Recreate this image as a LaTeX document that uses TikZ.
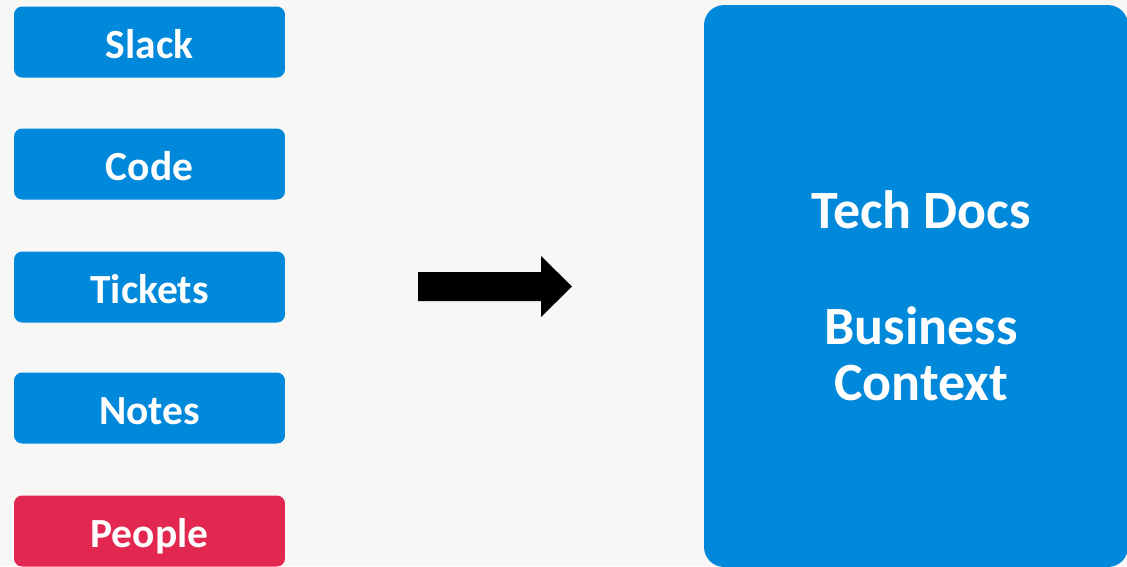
\documentclass[tikz,border=0pt]{standalone}
\usepackage{fontspec}
\setmainfont{Carlito}
\definecolor{srcblue}{HTML}{0089DB}
\definecolor{srcred}{HTML}{E22850}
\definecolor{paper}{HTML}{F7F7F5}
\begin{document}
\begin{tikzpicture}[x=0.02cm, y=-0.02cm, line join=round,
    srcbox/.style={fill=srcblue, text=white, rounded corners=0.16cm, inner sep=0pt,
      minimum width=5.42cm, minimum height=1.42cm, text height=18.6pt, text depth=0pt,
      font=\fontsize{23.6}{26}\selectfont\bfseries},
    bigbox/.style={fill=srcblue, rounded corners=0.4cm, inner sep=0pt,
      minimum width=8.48cm, minimum height=11.24cm},
    bigtext/.style={text=white, align=center, inner sep=0pt,
      font=\fontsize{30.7}{31.9}\selectfont\bfseries}]
    % fond et cadre
    \fill[paper] (0,0) rectangle (1127,566);
    \useasboundingbox (0,0) rectangle (1127,566);
    \begin{scope}
    \clip (0,0) rectangle (1127,566);
    % sources a gauche
    \node[srcbox] (slack)   at (149.5,42)  {Slack};
    \node[srcbox] (code)    at (149.5,164) {Code};
    \node[srcbox] (tickets) at (149.5,287) {Tickets};
    \node[srcbox] (notes)   at (149.5,408) {Notes};
    \node[srcbox, fill=srcred] (people) at (149.5,531) {People};
    % grand bloc a droite
    \node[bigbox] (target) at (916,286) {};
    \node[bigtext] (docs) at (921,296) {Tech Docs\\[34pt]Business\\Context};
    % fleche
    \fill[black] (418,272) -- (541,272) -- (541,256) -- (572,286.5)
      -- (541,317) -- (541,301) -- (418,301) -- cycle;
    \end{scope}
\end{tikzpicture}
\end{document}
